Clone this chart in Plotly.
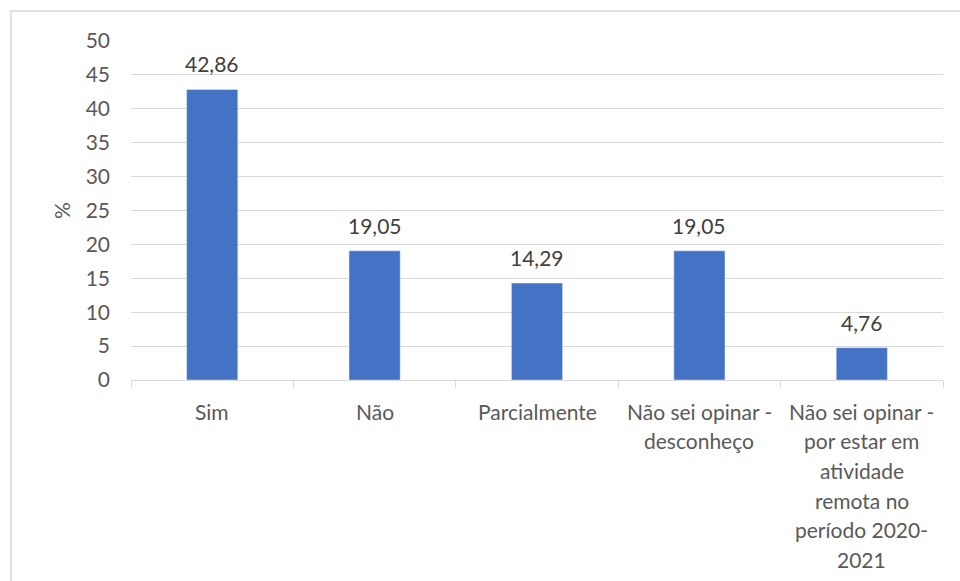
import plotly.graph_objects as go

categories = ["Sim", "Não", "Parcialmente", "Não sei opinar -\ndesconheço",
              "Não sei opinar -\npor estar em\natividade\nremota no\nperíodo 2020-\n2021"]
values = [42.86, 19.05, 14.29, 19.05, 4.76]
y_ticks = [0, 5, 10, 15, 20, 25, 30, 35, 40, 45, 50]

FONT = "Lato"
FS = 21
TXT = "#595959"
GRID = "#d9d9d9"

keys = [c.replace("\n", " ") for c in categories]

fig = go.Figure()
fig.add_trace(go.Bar(x=keys, y=values, marker_color="#4472c4", width=0.315,
                     hoverinfo="skip"))

annotations = []
for k, v in zip(keys, values):
    annotations.append(dict(x=k, y=v, xref="x", yref="y", text=f"{v:.2f}".replace(".", ","),
                            showarrow=False, yanchor="bottom", yshift=11,
                            font=dict(family=FONT, size=FS, color="#404040")))
for k, lab in zip(keys, categories):
    for i, line in enumerate(lab.split("\n")):
        annotations.append(dict(x=k, y=0, xref="x", yref="y", text=line, showarrow=False,
                                yanchor="middle", yshift=-(31 + 29.7 * i),
                                font=dict(family=FONT, size=FS, color=TXT)))

fig.update_layout(
    width=960, height=581,
    margin=dict(l=131, r=17, t=41, b=201),
    paper_bgcolor="white", plot_bgcolor="white",
    showlegend=False,
    annotations=annotations,
    xaxis=dict(type="category", categoryorder="array", categoryarray=keys,
               showticklabels=False,
               showgrid=False, zeroline=False, showline=True, linecolor=GRID, linewidth=1,
               ticks="outside", tickson="boundaries", ticklen=7, tickcolor=GRID, tickwidth=1),
    yaxis=dict(range=[0, 50], tickvals=y_ticks, showgrid=True, gridcolor=GRID, gridwidth=1,
               zeroline=False, showline=False, ticks="", ticklabelstandoff=20,
               tickfont=dict(family=FONT, size=FS, color=TXT),
               title=dict(text="%", font=dict(family=FONT, size=FS, color=TXT), standoff=9)),
    shapes=[dict(type="rect", xref="paper", yref="paper", x0=-0.1478, x1=1.2,
                 y0=-1.0, y1=1.0885, line=dict(color=GRID, width=1.5), fillcolor="rgba(0,0,0,0)",
                 layer="below")],
)

fig.write_html("out.html", config={"displayModeBar": False},
               post_script="document.body.style.margin='0';document.body.style.overflow='hidden';")
